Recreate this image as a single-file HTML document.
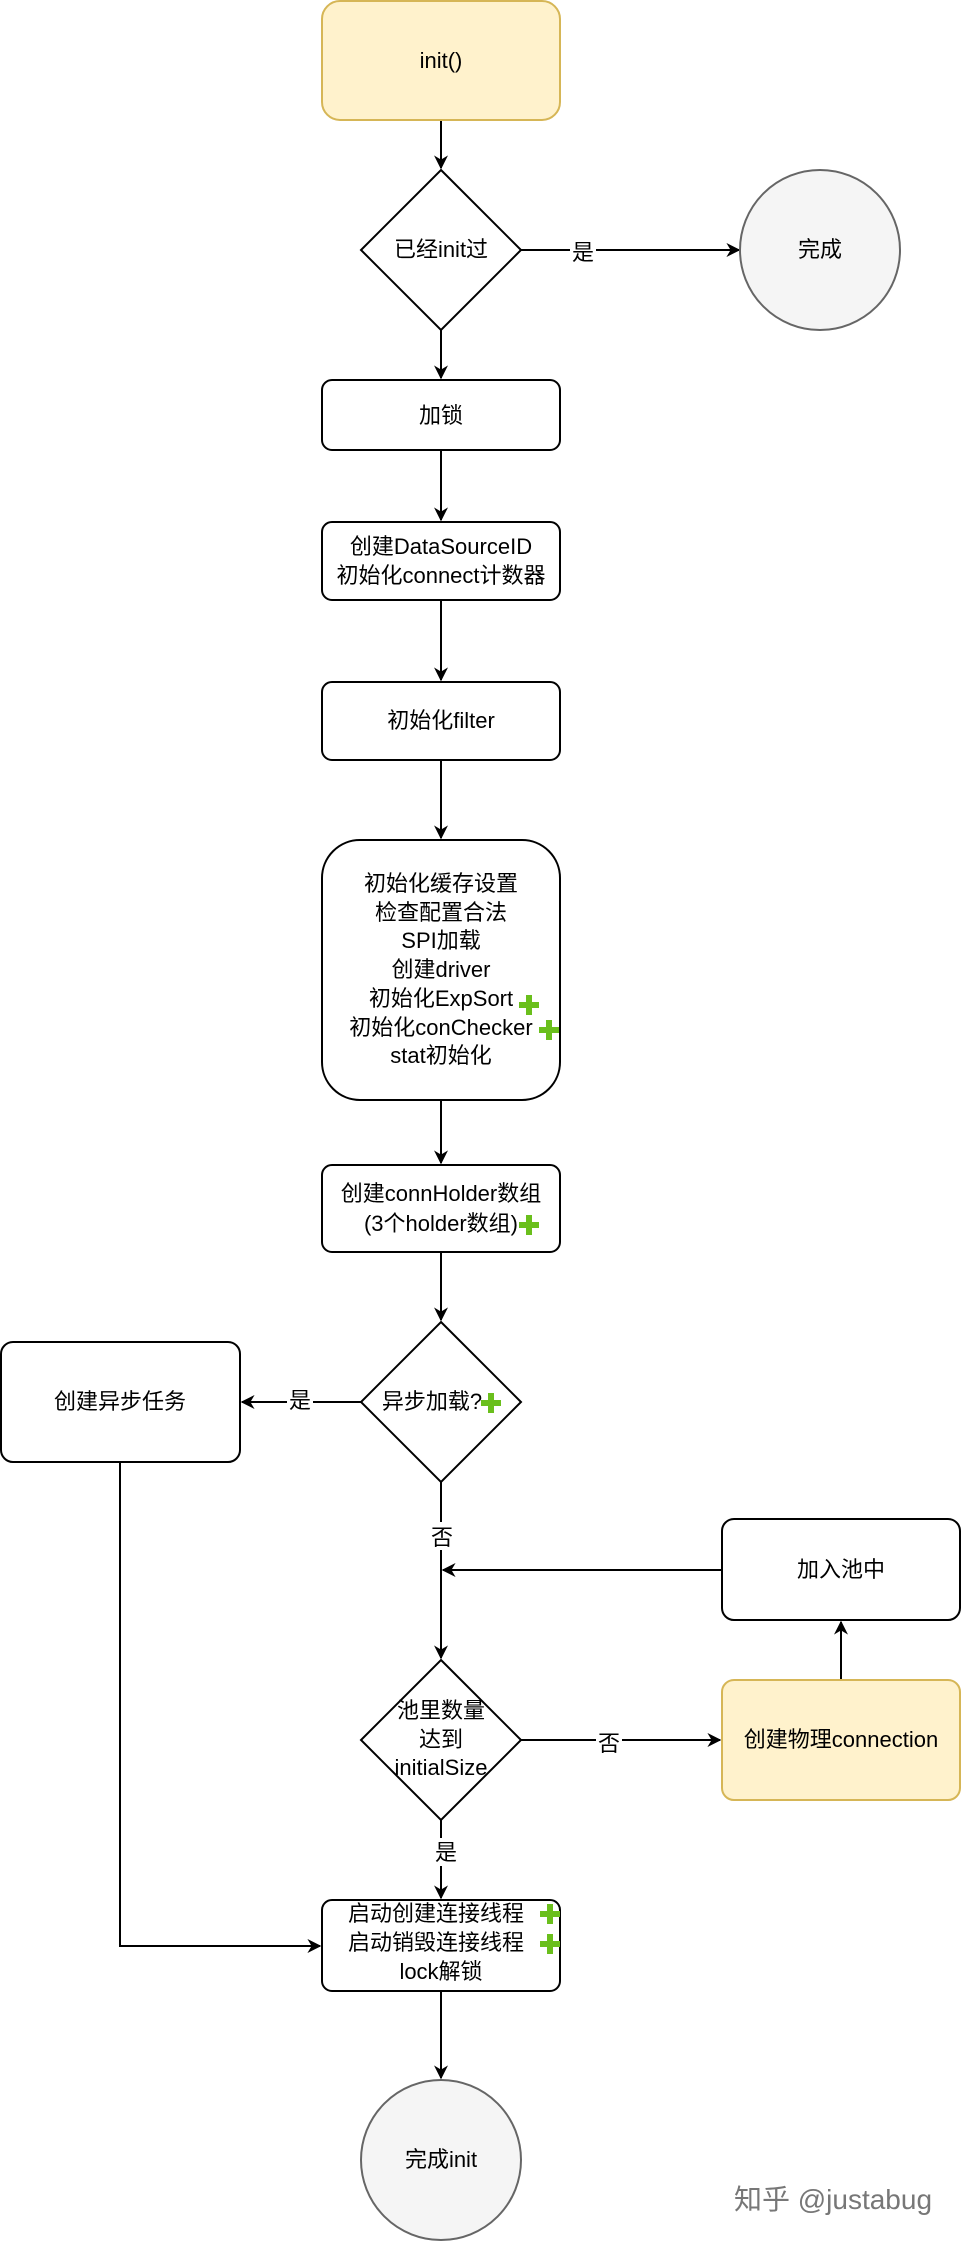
<!DOCTYPE html>
<html><head><meta charset="utf-8"><style>
body{margin:0;background:#fff;}
svg text{font-family:"Liberation Sans","Noto Sans CJK SC",sans-serif;font-size:22px;fill:#000;text-anchor:middle;}
</style></head><body>
<svg width="962" height="2242" viewBox="0 0 962 2242" xmlns="http://www.w3.org/2000/svg">
<defs>
<marker id="a" viewBox="0 0 10 10" refX="9" refY="5" markerWidth="14" markerHeight="14" markerUnits="userSpaceOnUse" orient="auto"><path d="M0,0 L10,5 L0,10 L3,5 z" fill="#000"/></marker>
<g id="plus"><rect x="-3" y="-10" width="6" height="20" fill="#6abf1c"/><rect x="-10" y="-3" width="20" height="6" fill="#6abf1c"/></g>
</defs>
<g stroke="#000" stroke-width="2" fill="none">
<line x1="441" y1="121" x2="441" y2="168" marker-end="url(#a)"/>
<line x1="521" y1="250" x2="739" y2="250" marker-end="url(#a)"/>
<line x1="441" y1="330" x2="441" y2="378" marker-end="url(#a)"/>
<line x1="441" y1="450" x2="441" y2="520" marker-end="url(#a)"/>
<line x1="441" y1="600" x2="441" y2="680" marker-end="url(#a)"/>
<line x1="441" y1="760" x2="441" y2="838" marker-end="url(#a)"/>
<line x1="441" y1="1100" x2="441" y2="1163" marker-end="url(#a)"/>
<line x1="441" y1="1252" x2="441" y2="1320" marker-end="url(#a)"/>
<line x1="361" y1="1402" x2="242" y2="1402" marker-end="url(#a)"/>
<line x1="441" y1="1482" x2="441" y2="1658" marker-end="url(#a)"/>
<line x1="722" y1="1570" x2="443" y2="1570" marker-end="url(#a)"/>
<line x1="521" y1="1740" x2="720" y2="1740" marker-end="url(#a)"/>
<line x1="841" y1="1680" x2="841" y2="1622" marker-end="url(#a)"/>
<line x1="441" y1="1820" x2="441" y2="1898" marker-end="url(#a)"/>
<polyline points="120,1462 120,1946 320,1946" marker-end="url(#a)"/>
<line x1="441" y1="1991" x2="441" y2="2078" marker-end="url(#a)"/>
</g>
<rect x="322" y="1" width="238" height="119" rx="18" fill="#fff2cc" stroke="#d6b656" stroke-width="2"/>
<text x="441" y="68">init()</text>
<polygon points="441,170 521,250 441,330 361,250" fill="#fff" stroke="#000" stroke-width="2"/>
<text x="441" y="257">已经init过</text>
<circle cx="820" cy="250" r="80" fill="#f5f5f5" stroke="#666" stroke-width="2"/>
<text x="820" y="257">完成</text>
<rect x="570" y="236" width="26" height="28" fill="#fff"/><text x="583" y="260">是</text>
<rect x="322" y="380" width="238" height="70" rx="10" fill="#fff" stroke="#000" stroke-width="2"/>
<text x="441" y="423">加锁</text>
<rect x="322" y="522" width="238" height="78" rx="10" fill="#fff" stroke="#000" stroke-width="2"/>
<text x="441" y="554">创建DataSourceID</text><text x="441" y="583">初始化connect计数器</text>
<rect x="322" y="682" width="238" height="78" rx="10" fill="#fff" stroke="#000" stroke-width="2"/>
<text x="441" y="728">初始化filter</text>
<rect x="322" y="840" width="238" height="260" rx="38" fill="#fff" stroke="#000" stroke-width="2"/>
<text x="441" y="891">初始化缓存设置</text>
<text x="441" y="920">检查配置合法</text>
<text x="441" y="948">SPI加载</text>
<text x="441" y="977">创建driver</text>
<text x="441" y="1006">初始化ExpSort</text>
<text x="441" y="1035">初始化conChecker</text>
<text x="441" y="1063">stat初始化</text>
<use href="#plus" x="529" y="1005"/><use href="#plus" x="549" y="1030"/>
<rect x="322" y="1165" width="238" height="87" rx="10" fill="#fff" stroke="#000" stroke-width="2"/>
<text x="441" y="1201">创建connHolder数组</text><text x="441" y="1231">(3个holder数组)</text>
<use href="#plus" x="529" y="1225"/>
<polygon points="441,1322 521,1402 441,1482 361,1402" fill="#fff" stroke="#000" stroke-width="2"/>
<text x="432" y="1409">异步加载?</text><use href="#plus" x="491" y="1403"/>
<rect x="1" y="1342" width="239" height="120" rx="12" fill="#fff" stroke="#000" stroke-width="2"/>
<text x="120" y="1409">创建异步任务</text>
<rect x="287" y="1386" width="26" height="28" fill="#fff"/><text x="300" y="1408">是</text>
<rect x="429" y="1522" width="26" height="28" fill="#fff"/><text x="442" y="1545">否</text>
<rect x="722" y="1519" width="238" height="101" rx="12" fill="#fff" stroke="#000" stroke-width="2"/>
<text x="841" y="1577">加入池中</text>
<polygon points="441,1660 521,1740 441,1820 361,1740" fill="#fff" stroke="#000" stroke-width="2"/>
<text x="441" y="1718">池里数量</text><text x="441" y="1747">达到</text><text x="441" y="1775">initialSize</text>
<rect x="722" y="1680" width="238" height="120" rx="12" fill="#fff2cc" stroke="#d6b656" stroke-width="2"/>
<text x="841" y="1747">创建物理connection</text>
<rect x="596" y="1728" width="26" height="28" fill="#fff"/><text x="609" y="1751">否</text>
<rect x="433" y="1838" width="26" height="28" fill="#fff"/><text x="446" y="1860">是</text>
<rect x="322" y="1900" width="238" height="91" rx="10" fill="#fff" stroke="#000" stroke-width="2"/>
<text x="436" y="1921">启动创建连接线程</text><text x="436" y="1950">启动销毁连接线程</text><text x="441" y="1979">lock解锁</text>
<use href="#plus" x="550" y="1914"/><use href="#plus" x="550" y="1944"/>
<circle cx="441" cy="2160" r="80" fill="#f5f5f5" stroke="#666" stroke-width="2"/>
<text x="441" y="2167">完成init</text>
<text x="833" y="2209" style="font-size:28px;fill:#777">知乎 @justabug</text>
</svg>
</body></html>
